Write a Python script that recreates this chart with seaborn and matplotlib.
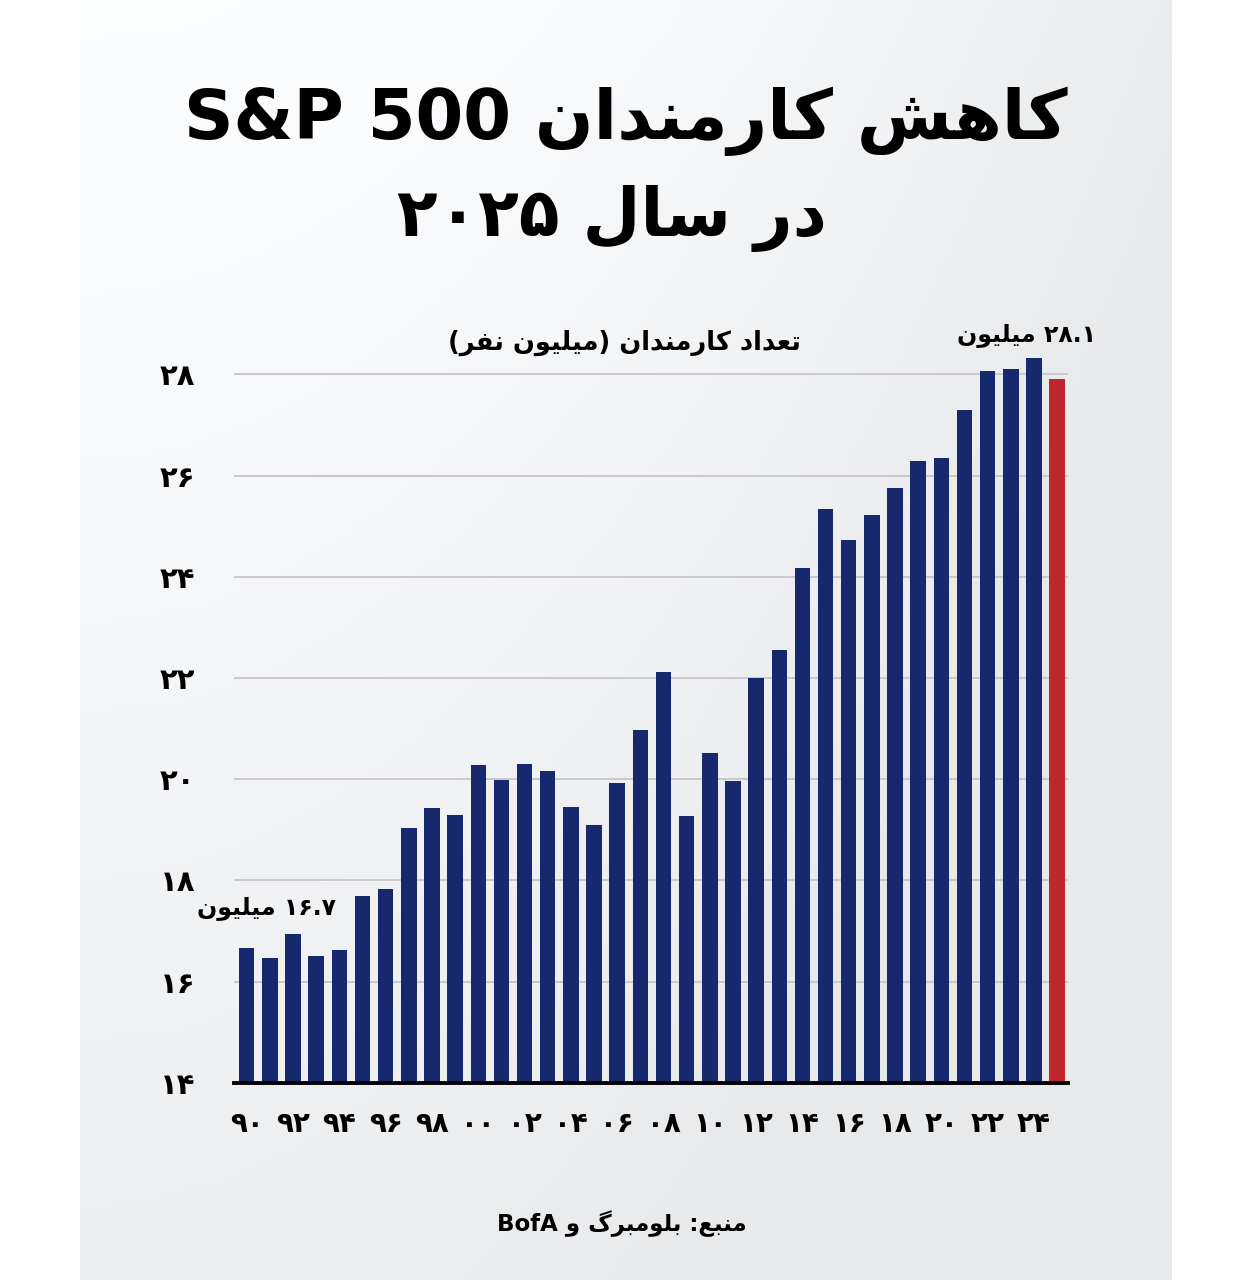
import numpy as np
import pandas as pd
import seaborn as sns
import matplotlib.pyplot as plt

# data (million employees, S&P 500)
years = list(range(1990, 2026))
employees = [16.67, 16.46, 16.93, 16.50, 16.62, 17.69, 17.83, 19.03, 19.43, 19.29,
             20.28, 19.98, 20.30, 20.16, 19.45, 19.09, 19.92, 20.97, 22.12, 19.27,
             20.51, 19.96, 22.00, 22.55, 24.18, 25.33, 24.73, 25.21, 25.76, 26.28,
             26.34, 27.30, 28.07, 28.10, 28.33, 27.91]
y_ticks = [14, 16, 18, 20, 22, 24, 26, 28]

title_line1 = "کاهش کارمندان S&P 500"
title_line2 = "در سال ۲۰۲۵"
subtitle = "تعداد کارمندان (میلیون نفر)"
label_last = "۲۸.۱ میلیون"
label_first = "۱۶.۷ میلیون"
source = "منبع: بلومبرگ و BofA"

NAVY = "#17296e"
RED = "#c0272d"

# --- minimal Persian shaping + bidi, matplotlib does no text shaping itself
FORMS = {
    'ا': ('\uFE8D', '\uFE8E', None, None),
    'ب': ('\uFE8F', '\uFE90', '\uFE91', '\uFE92'),
    'ت': ('\uFE95', '\uFE96', '\uFE97', '\uFE98'),
    'د': ('\uFEA9', '\uFEAA', None, None),
    'ر': ('\uFEAD', '\uFEAE', None, None),
    'س': ('\uFEB1', '\uFEB2', '\uFEB3', '\uFEB4'),
    'ش': ('\uFEB5', '\uFEB6', '\uFEB7', '\uFEB8'),
    'ع': ('\uFEC9', '\uFECA', '\uFECB', '\uFECC'),
    'ف': ('\uFED1', '\uFED2', '\uFED3', '\uFED4'),
    'ل': ('\uFEDD', '\uFEDE', '\uFEDF', '\uFEE0'),
    'م': ('\uFEE1', '\uFEE2', '\uFEE3', '\uFEE4'),
    'ن': ('\uFEE5', '\uFEE6', '\uFEE7', '\uFEE8'),
    'ه': ('\uFEE9', '\uFEEA', '\uFEEB', '\uFEEC'),
    'و': ('\uFEED', '\uFEEE', None, None),
    'ی': ('\uFBFC', '\uFBFD', '\uFBFE', '\uFBFF'),
    'ک': ('\uFB8E', '\uFB8F', '\uFB90', '\uFB91'),
    'گ': ('\uFB92', '\uFB93', '\uFB94', '\uFB95'),
}
MIRROR = {'(': ')', ')': '('}


def shape(text):
    out = []
    for i, ch in enumerate(text):
        if ch not in FORMS:
            out.append(ch)
            continue
        iso, fin, ini, med = FORMS[ch]
        prev = text[i - 1] if i > 0 else ''
        nxt = text[i + 1] if i + 1 < len(text) else ''
        jp = prev in FORMS and FORMS[prev][2] is not None
        jn = ini is not None and nxt in FORMS
        if jp and jn:
            out.append(med)
        elif jp:
            out.append(fin)
        elif jn:
            out.append(ini)
        else:
            out.append(iso)
    return ''.join(out)


def strong(c):
    if c.isdigit() or (c.isascii() and c.isalpha()):
        return 'L'
    if 0x0600 <= ord(c) <= 0x06FF or 0xFB50 <= ord(c) <= 0xFEFF:
        return 'R'
    return None


def fa(text):
    s = shape(text)
    types = [strong(c) for c in s]
    for i, t in enumerate(types):
        if t is None:
            before = next((types[j] for j in range(i - 1, -1, -1) if strong(s[j])), 'R')
            after = next((strong(s[j]) for j in range(i + 1, len(s)) if strong(s[j])), 'R')
            types[i] = 'L' if before == 'L' and after == 'L' else 'R'
    runs = []
    for c, t in zip(s, types):
        if runs and runs[-1][0] == t:
            runs[-1][1].append(c)
        else:
            runs.append([t, [c]])
    parts = []
    for t, chars in reversed(runs):
        if t == 'R':
            parts.append(''.join(MIRROR.get(c, c) for c in reversed(chars)))
        else:
            parts.append(''.join(chars))
    return ''.join(parts)


def fa_digits(n):
    return str(n).translate(str.maketrans('0123456789', '۰۱۲۳۴۵۶۷۸۹'))


df = pd.DataFrame({
    'year': [str(y) for y in years],
    'employees': employees,
    'kind': ['past'] * (len(years) - 1) + ['2025'],
})

sns.set_theme(style='white')
plt.rcParams['font.family'] = ['DejaVu Sans']
plt.rcParams['font.weight'] = 'bold'
plt.rcParams['text.color'] = 'black'

fig = plt.figure(figsize=(12.44, 12.8), dpi=100)
fig.patch.set_facecolor('white')

# soft grey panel behind everything
bg = fig.add_axes([80 / 1244, 0, 1092 / 1244, 1], zorder=0)
yy, xx = np.mgrid[0:1:200j, 0:1:200j]
v = 0.99 - 0.06 * yy - 0.07 * xx ** 2
v = np.clip(v, 0.912, 1)
img = np.dstack([v, np.clip(v + 0.004, 0, 1), np.clip(v + 0.012, 0, 1)])
bg.imshow(img, aspect='auto', extent=(0, 1, 0, 1))
bg.axis('off')

ax = fig.add_axes([234 / 1244, 1 - 1082.7 / 1280, 834 / 1244, 743.8 / 1280], zorder=1)
ax.set_facecolor('none')
sns.barplot(data=df, x='year', y='employees', hue='kind',
            palette={'past': NAVY, '2025': RED}, dodge=False, legend=False,
            width=0.67, saturation=1, linewidth=0, ax=ax, zorder=3)

ax.set_ylim(14, 28.7)
ax.set_xlim(-0.55, 35.47)
ax.set_yticks(y_ticks)
ax.set_yticklabels([fa_digits(t) for t in y_ticks], fontsize=21, fontweight='bold')
xt = list(range(0, len(years), 2))
ax.set_xticks(xt)
ax.set_xticklabels([fa_digits(years[i] % 100).rjust(2, '۰') for i in xt],
                   fontsize=20, fontweight='bold')
ax.tick_params(axis='both', length=0, colors='black')
ax.tick_params(axis='y', pad=28)
ax.tick_params(axis='x', pad=20)
ax.set_xlabel('')
ax.set_ylabel('')
for t in y_ticks[1:]:
    ax.axhline(t, color='#c6c6c8', lw=1.3, zorder=1)
for side in ['top', 'right', 'left']:
    ax.spines[side].set_visible(False)
ax.spines['bottom'].set_color('black')
ax.spines['bottom'].set_linewidth(2.8)
ax.spines['bottom'].set_zorder(4)

ax.text(33.7, 28.78, fa(label_last), ha='center', va='center',
        fontsize=17, fontweight='bold', clip_on=False)
ax.text(0.84, 17.45, fa(label_first), ha='center', va='center',
        fontsize=17, fontweight='bold', clip_on=False)

fig.text(0.503, 0.905, fa(title_line1), ha='center', va='center',
         fontsize=49.5, fontweight='bold')
fig.text(0.492, 0.829, fa(title_line2), ha='center', va='center',
         fontsize=48, fontweight='bold')
fig.text(0.502, 0.732, fa(subtitle), ha='center', va='center',
         fontsize=18.5, fontweight='bold')
fig.text(0.5, 0.044, fa(source), ha='center', va='center',
         fontsize=16.5, fontweight='bold')

fig.savefig('out.png', dpi=100, facecolor=fig.get_facecolor())
plt.close(fig)
